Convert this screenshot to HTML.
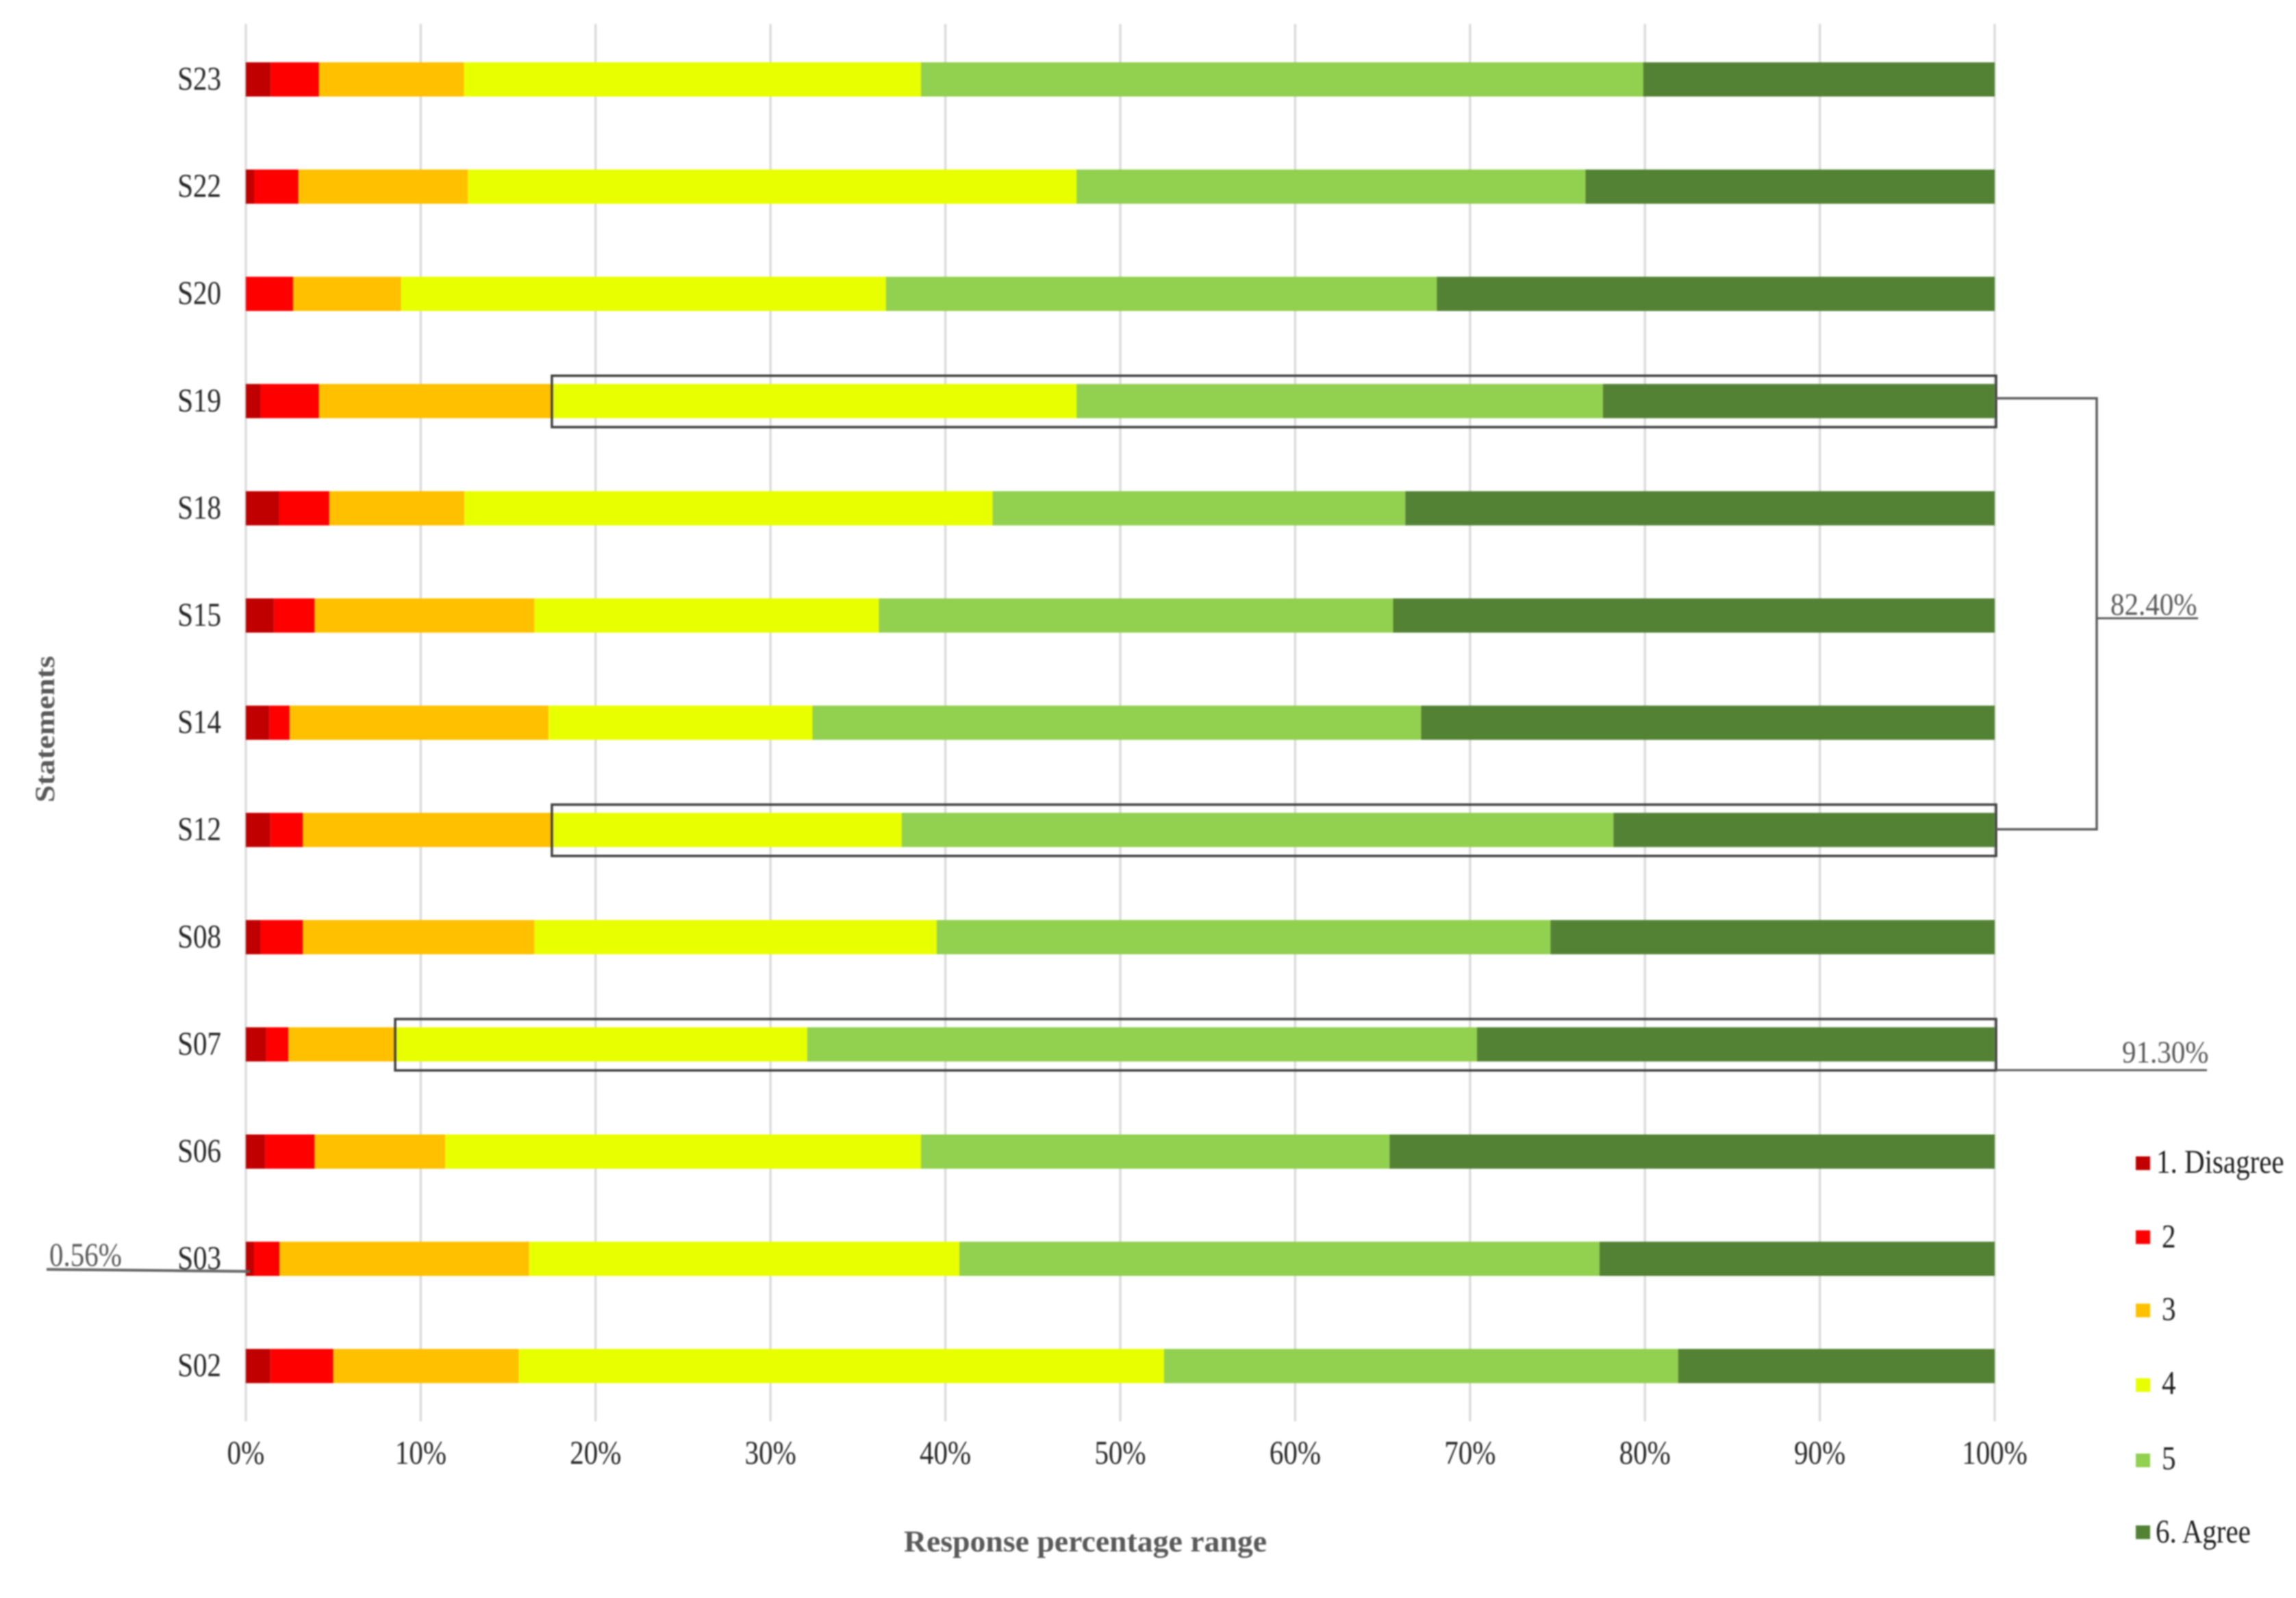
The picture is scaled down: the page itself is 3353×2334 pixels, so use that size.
<!DOCTYPE html>
<html lang="en">
<head>
<meta charset="utf-8">
<title>Response percentage range by statement</title>
<style>
html,body{margin:0;padding:0;background:#fff;overflow:hidden;}
svg{display:block;filter:blur(1.1px);}
text{font-family:"Liberation Serif","DejaVu Serif",serif;}
</style>
</head>
<body>
<svg id="chart" xmlns="http://www.w3.org/2000/svg" width="3353" height="2334" viewBox="0 0 3353 2334">
<rect x="0" y="0" width="3353" height="2334" fill="#ffffff"/>
<g id="grid"></g>
<g id="bars"></g>
<g id="cats"></g>
<g id="ticks"></g>
<g id="notes"></g>
<text transform="translate(1320,2266) scale(1,1.12)" font-size="40" font-weight="bold" fill="#595959" textLength="530" lengthAdjust="spacingAndGlyphs">Response percentage range</text>
<text transform="translate(79,1172) rotate(-90)" font-size="40" font-weight="bold" fill="#595959" textLength="214" lengthAdjust="spacingAndGlyphs">Statements</text>
<g>
  <g><rect x="3119" y="1689" width="21" height="20" fill="#c00000"/><text transform="translate(3149,1713) scale(1,1.2)" font-size="41" fill="#1f1f1f">1. Disagree</text></g>
  <g><rect x="3119" y="1797" width="21" height="20" fill="#ff0000"/><text transform="translate(3157,1822) scale(1,1.2)" font-size="41" fill="#1f1f1f">2</text></g>
  <g><rect x="3119" y="1904" width="21" height="20" fill="#ffc000"/><text transform="translate(3157,1928) scale(1,1.2)" font-size="41" fill="#1f1f1f">3</text></g>
  <g><rect x="3119" y="2013" width="21" height="20" fill="#e8ff00"/><text transform="translate(3157,2036) scale(1,1.2)" font-size="41" fill="#1f1f1f">4</text></g>
  <g><rect x="3119" y="2123" width="21" height="20" fill="#92d050"/><text transform="translate(3157,2146) scale(1,1.2)" font-size="41" fill="#1f1f1f">5</text></g>
  <g><rect x="3119" y="2228" width="21" height="20" fill="#548235"/><text transform="translate(3148,2253) scale(1,1.2)" font-size="41" fill="#1f1f1f">6. Agree</text></g>
</g>
</svg>
<script>
const categories = ["S23","S22","S20","S19","S18","S15","S14","S12","S08","S07","S06","S03","S02"];
const tickLabels = [0,10,20,30,40,50,60,70,80,90,100];
const seriesDisagree = [1.42,0.47,0,0.84,1.9,1.6,1.34,1.4,0.84,1.17,1.1,0.45,1.4];
const seriesTwo = [2.76,2.53,2.7,3.34,2.87,2.33,1.16,1.86,2.42,1.26,2.83,1.47,3.6];
const seriesThree = [8.29,9.7,6.17,13.32,7.73,12.57,14.8,14.24,13.24,6.11,7.47,14.28,10.6];
const seriesFour = [26.13,34.8,27.73,30,30.2,19.7,15.1,20,23,23.56,27.2,24.6,36.9];
const seriesFive = [41.3,29.1,31.5,30.1,23.6,29.4,34.8,40.7,35.1,38.3,26.8,36.6,29.4];
const seriesAgree = [20.1,23.4,31.9,22.4,33.7,34.4,32.8,21.8,25.4,29.6,34.6,22.6,18.1];

const NS = "http://www.w3.org/2000/svg";
const allSeries = [seriesDisagree, seriesTwo, seriesThree, seriesFour, seriesFive, seriesAgree];
const seriesColors = ["#c00000","#ff0000","#ffc000","#e8ff00","#92d050","#548235"];
const plotLeft = 359, plotRight = 2913, firstRowY = 116, rowStep = 156.6, barHeight = 50;

function x(v){ return plotLeft + (plotRight - plotLeft) * v / 100; }
function y(i){ return firstRowY + rowStep * i; }
function cumulative(row, count){
  let s = 0;
  for (let k = 0; k < count; k++) s += allSeries[k][row];
  return s;
}
function make(tag, parent, props){
  const el = document.createElementNS(NS, tag);
  for (const k in props) el.setAttribute(k, props[k]);
  parent.appendChild(el);
  return el;
}

const gridG = document.getElementById("grid");
const barsG = document.getElementById("bars");
const catsG = document.getElementById("cats");
const ticksG = document.getElementById("ticks");
const notesG = document.getElementById("notes");

tickLabels.forEach(function(t){
  const line = make("line", gridG, {x1:x(t), x2:x(t), y1:35, y2:2076, stroke:"#dcdcdc", "stroke-width":3.5});
  
  
  const label = make("text", ticksG, {transform:"translate(" + x(t) + ",2138) scale(1,1.2)", "font-size":41, "text-anchor":"middle", fill:"#262626"});
  label.textContent = t + "%";
  
  
});

categories.forEach(function(cat, i){
  const label = make("text", catsG, {transform:"translate(323," + (y(i) + 15) + ") scale(1,1.2)", "font-size":41, "text-anchor":"end", fill:"#262626"});
  label.textContent = cat;
  
  
  allSeries.forEach(function(series, s){
    const start = cumulative(i, s);
    const seg = make("rect", barsG, {x:x(start), y:y(i) - barHeight / 2, width:x(start + series[i]) - x(start), height:barHeight, fill:seriesColors[s]});
    
    
  });
});

/* highlight boxes start where response 4 starts in their row */
[[categories.indexOf("S19"),"highlight-box-s19"],[categories.indexOf("S12"),"highlight-box-s12"],[categories.indexOf("S07"),"highlight-box-s07"]].forEach(function(item){
  const left = x(cumulative(item[0], 3));
  const box = make("rect", notesG, {x:left, y:y(item[0]) - 37, width:plotRight + 2 - left, height:75, fill:"none", stroke:"#404040", "stroke-width":3.5});
  
  
});

const s19y = y(categories.indexOf("S19")) - 4;
const s12y = y(categories.indexOf("S12")) - 1;
const bracket = make("path", notesG, {d:"M" + (plotRight + 2) + " " + s19y + " H3062 V" + s12y + " H" + (plotRight + 2), fill:"none", stroke:"#5f5f5f", "stroke-width":3.5});



const note82Line = make("line", notesG, {x1:3062, x2:3210, y1:903, y2:903, stroke:"#5f5f5f", "stroke-width":3});


const note82 = make("text", notesG, {transform:"translate(3082,898) scale(1,1.1)", "font-size":41, fill:"#595959"});
note82.textContent = "82.40%";



const note91Line = make("line", notesG, {x1:plotRight + 2, x2:3223, y1:1563, y2:1563, stroke:"#5f5f5f", "stroke-width":3});


const note91 = make("text", notesG, {transform:"translate(3099,1552) scale(1,1.1)", "font-size":41, fill:"#595959"});
note91.textContent = "91.30%";



const note056Line = make("line", notesG, {x1:68, x2:365, y1:1854, y2:1857, stroke:"#666666", "stroke-width":4});


const note056 = make("text", notesG, {transform:"translate(72,1849) scale(1,1.2)", "font-size":41, fill:"#595959"});
note056.textContent = "0.56%";


</script>
</body>
</html>
